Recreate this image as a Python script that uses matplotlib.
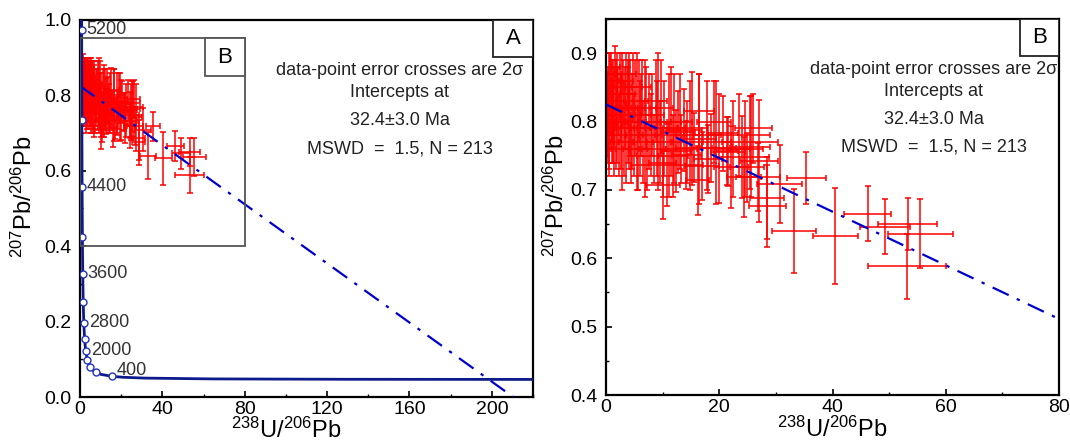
import matplotlib
matplotlib.use("Agg")
import matplotlib.pyplot as plt
from matplotlib.patches import Rectangle
from matplotlib.ticker import MultipleLocator, FormatStrFormatter

plt.rcParams['font.family'] = ['Liberation Sans', 'DejaVu Sans']
plt.rcParams['mathtext.fontset'] = 'custom'
plt.rcParams['mathtext.rm'] = 'Liberation Sans'
plt.rcParams['mathtext.it'] = 'Liberation Sans:italic'
plt.rcParams['mathtext.bf'] = 'Liberation Sans:bold'

# ---------------- data ----------------
# 238U/206Pb, 207Pb/206Pb, 2-sigma errors
u_pb = [0.3, 0.4, 0.5, 0.6, 0.7, 0.8, 0.9, 1.0, 1.1, 1.2, 1.3, 1.4, 1.5, 1.7, 1.8, 1.9, 2.0, 2.2, 2.3, 2.4,
        2.6, 2.7, 2.9, 3.0, 3.2, 3.3, 3.5, 3.6, 3.8, 3.9, 4.1, 4.3, 4.4, 4.6, 4.8, 5.0, 5.2, 5.4, 5.6, 5.8,
        6.0, 6.2, 6.5, 6.8, 7.0, 7.3, 7.6, 7.9, 8.2, 8.5,
        0.2, 0.5, 1.6, 2.8, 4.0, 6.3, 8.8, 9.8,
        9.0, 9.2, 9.6, 10.0, 10.3, 10.8, 10.0, 11.2, 11.8, 12.4, 12.7, 13.3, 13.8, 14.2, 14.3, 15.2, 15.6,
        16.2, 16.4, 16.5, 17.0, 18.5, 19.0, 20.0, 20.6, 21.3, 21.6,
        11.5, 12.0, 13.0, 14.8, 17.8, 19.5, 22.5, 26.0, 22.0, 18.0,
        23.5, 24.1, 24.4, 24.6, 24.9, 25.4, 25.6, 26.9, 27.0, 28.5, 28.5, 30.7,
        33.2, 35.4, 40.5, 46.2, 49.2, 53.3, 53.2, 55.5]
pb_pb = [0.83, 0.80, 0.86, 0.78, 0.84, 0.81, 0.87, 0.79, 0.83, 0.85, 0.80, 0.77, 0.82, 0.84, 0.79, 0.86, 0.81, 0.83, 0.78, 0.85,
         0.80, 0.82, 0.76, 0.84, 0.79, 0.82, 0.86, 0.77, 0.81, 0.84, 0.79, 0.82, 0.76, 0.80, 0.85, 0.78, 0.82, 0.80, 0.76, 0.83,
         0.79, 0.81, 0.77, 0.79, 0.82, 0.75, 0.80, 0.78, 0.81, 0.76,
         0.81, 0.76, 0.88, 0.87, 0.87, 0.85, 0.83, 0.82,
         0.79, 0.80, 0.77, 0.74, 0.79, 0.736, 0.707, 0.78, 0.75, 0.757, 0.785, 0.76, 0.788, 0.751, 0.77, 0.79, 0.762,
         0.714, 0.815, 0.775, 0.735, 0.761, 0.80, 0.761, 0.783, 0.757, 0.756,
         0.80, 0.79, 0.80, 0.78, 0.78, 0.77, 0.76, 0.79, 0.733, 0.745,
         0.781, 0.748, 0.719, 0.76, 0.733, 0.770, 0.763, 0.719, 0.742, 0.676, 0.688, 0.709,
         0.640, 0.718, 0.633, 0.665, 0.646, 0.650, 0.588, 0.636]
u_err = [0.3, 0.4, 0.4, 0.5, 0.5, 0.5, 0.6, 0.6, 0.6, 0.7, 0.7, 0.7, 0.8, 0.8, 0.8, 0.9, 0.9, 0.9, 1.0, 1.0,
         1.0, 1.1, 1.1, 1.1, 1.2, 1.2, 1.2, 1.3, 1.3, 1.3, 1.4, 1.4, 1.4, 1.5, 1.5, 1.5, 1.6, 1.6, 1.6, 1.7,
         1.7, 1.7, 1.8, 1.8, 1.9, 1.9, 2.0, 2.0, 2.1, 2.1,
         0.2, 0.4, 0.8, 1.0, 1.3, 1.7, 2.0, 2.0,
         2.2, 2.3, 2.3, 2.4, 2.4, 6.3, 3.0, 2.5, 2.6, 2.6, 3.0, 2.7, 3.2, 2.5, 2.8, 2.7, 3.2,
         2.0, 2.7, 3.0, 3.0, 3.4, 3.0, 3.0, 2.7, 2.0, 3.0,
         1.8, 2.0, 2.2, 2.4, 2.5, 2.6, 3.0, 3.3, 3.0, 2.5,
         5.5, 4.7, 3.0, 3.2, 3.0, 5.0, 3.4, 3.9, 3.3, 3.2, 3.0, 4.0,
         3.9, 3.4, 4.0, 4.1, 4.4, 5.2, 6.9, 5.7]
pb_err = [0.05, 0.06, 0.04, 0.05, 0.06, 0.05, 0.03, 0.05, 0.06, 0.04, 0.06, 0.05, 0.06, 0.05, 0.06, 0.04, 0.07, 0.05, 0.06, 0.05,
          0.07, 0.05, 0.06, 0.05, 0.07, 0.06, 0.04, 0.06, 0.07, 0.05, 0.06, 0.07, 0.05, 0.07, 0.05, 0.06, 0.07, 0.10, 0.06, 0.06,
          0.07, 0.06, 0.06, 0.10, 0.06, 0.05, 0.07, 0.06, 0.06, 0.05,
          0.06, 0.04, 0.03, 0.03, 0.03, 0.04, 0.06, 0.07,
          0.07, 0.10, 0.06, 0.05, 0.07, 0.06, 0.05, 0.09, 0.06, 0.06, 0.06, 0.05, 0.06, 0.05, 0.06, 0.083, 0.05,
          0.05, 0.055, 0.095, 0.05, 0.05, 0.06, 0.08, 0.055, 0.05, 0.05,
          0.08, 0.08, 0.07, 0.08, 0.08, 0.09, 0.07, 0.05, 0.06, 0.05,
          0.06, 0.06, 0.058, 0.07, 0.05, 0.068, 0.074, 0.05, 0.089, 0.06, 0.06, 0.057,
          0.062, 0.038, 0.07, 0.04, 0.04, 0.038, 0.048, 0.05]

# Tera-Wasserburg concordia
conc_x = [220.0, 128.4, 64.0, 31.7, 21.0, 15.62, 10.25, 7.57, 5.96, 4.89, 3.55, 2.75, 2.22, 1.84, 1.556,
          1.337, 1.163, 1.022, 0.905, 0.806, 0.795]
conc_y = [0.0466, 0.0470, 0.0480, 0.0501, 0.0523, 0.0547, 0.0599, 0.0658, 0.0725, 0.0801, 0.0987, 0.1230,
          0.1548, 0.1968, 0.2524, 0.3264, 0.4250, 0.5572, 0.7347, 0.9739, 1.0]
# age markers every 400 Ma
mark_age = [400, 800, 1200, 1600, 2000, 2400, 2800, 3200, 3600, 4000, 4400, 4800, 5200]
mark_x = [15.62, 7.57, 4.89, 3.55, 2.75, 2.22, 1.84, 1.556, 1.337, 1.163, 1.022, 0.905, 0.806]
mark_y = [0.0547, 0.0658, 0.0801, 0.0987, 0.1230, 0.1548, 0.1968, 0.2524, 0.3264, 0.4250, 0.5572, 0.7347, 0.9739]
label_ages = [400, 2000, 2800, 3600, 4400, 5200]

# discordia: upper intercept and lower intercept (32.4 Ma)
disc_y0 = 0.825
disc_x_lower = 198.5
disc_y_lower = 0.0466

info_lines = ["data-point error crosses are 2\u03c3", "Intercepts at",
              "32.4\u00b13.0 Ma", "MSWD  =  1.5, N = 213"]

# ---------------- figure ----------------
W, H = 1070, 445
fig = plt.figure(figsize=(W / 100, H / 100), dpi=100)
axA = fig.add_axes([80 / W, 48 / H, 453 / W, 377 / H])
axB = fig.add_axes([606 / W, 50 / H, 453 / W, 376 / H])

red = '#ff0000'
disc_slope = (disc_y_lower - disc_y0) / disc_x_lower
disc_xend = -disc_y0 / disc_slope

for ax in (axA, axB):
    ax.errorbar(u_pb, pb_pb, xerr=u_err, yerr=pb_err, fmt='none', ecolor=red,
                elinewidth=1.1, capsize=2.2, capthick=1.1, zorder=2)
    ax.plot([0, disc_xend], [disc_y0, 0], color='#0000cc', lw=1.6,
            ls=(0, (8, 4, 1.5, 4)), zorder=3)
    for s in ax.spines.values():
        s.set_linewidth(1.6)
        s.set_color('black')
    ax.tick_params(direction='in', which='major', length=4, width=1.2, labelsize=14, pad=3)
    ax.tick_params(direction='in', which='minor', length=2.5, width=1.0)
    ax.tick_params(axis='y', pad=6)

# Panel A
axA.plot(conc_x, conc_y, color='#0c1a8c', lw=2.0, zorder=4)
axA.plot(mark_x, mark_y, 'o', ms=5, mfc='white', mec='#2233bb', mew=1.0, zorder=5)
for age, mx, my in zip(mark_age, mark_x, mark_y):
    if age in label_ages:
        off = (4, 6) if age == 400 else (5, 0)
        axA.annotate(str(age), (mx, my), xytext=off, textcoords='offset pixels',
                     fontsize=13, color='#333333', va='center', ha='left', zorder=6)
axA.set_xlim(0, 220)
axA.set_ylim(0, 1.0)
axA.xaxis.set_major_locator(MultipleLocator(40))
axA.xaxis.set_minor_locator(MultipleLocator(20))
axA.yaxis.set_major_locator(MultipleLocator(0.2))
axA.yaxis.set_minor_locator(MultipleLocator(0.1))
axA.yaxis.set_major_formatter(FormatStrFormatter('%.1f'))
axA.add_patch(Rectangle((0, 0.4), 80, 0.552, fill=False, ec='#555555', lw=1.3, zorder=6))
axA.add_patch(Rectangle((60.6, 0.851), 19.4, 0.101, fill=True, fc='white', ec='#555555', lw=1.3, zorder=6))
axA.text(70.3, 0.9015, 'B', fontsize=16, ha='center', va='center', zorder=7)
axA.add_patch(Rectangle((1 - 0.088, 1 - 0.098), 0.088, 0.098, transform=axA.transAxes,
                        fill=True, fc='white', ec='#222222', lw=1.3, zorder=6))
axA.text(1 - 0.044, 1 - 0.049, 'A', transform=axA.transAxes, fontsize=16,
         ha='center', va='center', zorder=7)

# Panel B
axB.set_xlim(0, 80)
axB.set_ylim(0.4, 0.95)
axB.xaxis.set_major_locator(MultipleLocator(20))
axB.xaxis.set_minor_locator(MultipleLocator(10))
axB.yaxis.set_major_locator(MultipleLocator(0.1))
axB.yaxis.set_minor_locator(MultipleLocator(0.05))
axB.yaxis.set_major_formatter(FormatStrFormatter('%.1f'))
axB.add_patch(Rectangle((1 - 0.086, 1 - 0.098), 0.086, 0.098, transform=axB.transAxes,
                        fill=True, fc='white', ec='#222222', lw=1.3, zorder=6))
axB.text(1 - 0.043, 1 - 0.049, 'B', transform=axB.transAxes, fontsize=16,
         ha='center', va='center', zorder=7)

# info text
for ax, xc in ((axA, 0.706), (axB, 0.724)):
    for txt, yy in zip(info_lines, (0.866, 0.808, 0.733, 0.659)):
        ax.text(xc, yy, txt, transform=ax.transAxes, fontsize=13, color='#222222',
                ha='center', va='center', zorder=7)

xlabel = r'$^{238}$U/$^{206}$Pb'
ylabel = r'$^{207}$Pb/$^{206}$Pb'
for ax in (axA, axB):
    ax.set_xlabel(xlabel, fontsize=17)
    ax.set_ylabel(ylabel, fontsize=17)
axA.xaxis.set_label_coords(0.455, -0.055)
axB.xaxis.set_label_coords(0.499, -0.058)
axA.yaxis.set_label_coords(-0.095, 0.53)
axB.yaxis.set_label_coords(-0.083, 0.53)

fig.savefig('out.png', dpi=100)
